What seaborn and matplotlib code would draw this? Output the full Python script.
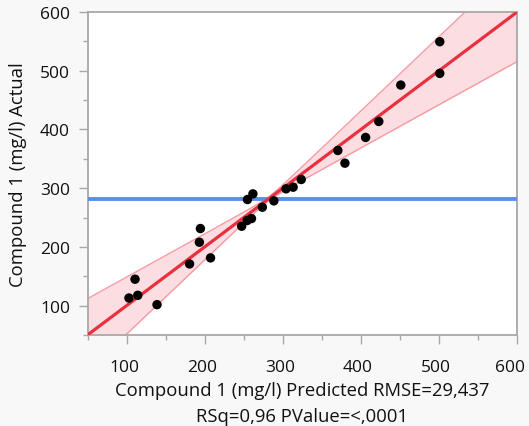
import numpy as np
import pandas as pd
import matplotlib
matplotlib.use("Agg")
import matplotlib.pyplot as plt
import matplotlib.transforms as mtransforms
import seaborn as sns
from matplotlib.ticker import MultipleLocator

# Data
predicted = [102.5, 110.3, 113.8, 138.5, 180.2, 192.8, 194.1, 207.1, 247.0, 254.0,
             259.6, 254.4, 261.4, 273.5, 288.3, 303.9, 313.0, 323.4, 370.3, 379.4,
             405.9, 422.8, 451.0, 501.0, 501.0]
actual = [113.0, 145.0, 117.6, 101.7, 171.0, 208.0, 231.3, 181.3, 235.2, 244.9,
          248.3, 280.7, 290.3, 267.6, 278.4, 298.9, 301.7, 314.8, 364.2, 342.6,
          386.4, 413.6, 475.6, 495.5, 549.4]
tick_values = [100, 200, 300, 400, 500, 600]
xlabel_text = "Compound 1 (mg/l) Predicted RMSE=29,437\nRSq=0,96 PValue=<,0001"
ylabel_text = "Compound 1 (mg/l) Actual"
slope_crit = 6.6     # F-based critical multiplier for leverage confidence curves
center_crit = 0.7

df = pd.DataFrame({"pred": predicted, "act": actual})

sns.set_theme(style="white")
plt.rcParams["font.family"] = ["Open Sans", "DejaVu Sans"]

fig = plt.figure(figsize=(5.29, 4.27), dpi=100, facecolor="#f8f8f8")
ax = fig.add_axes([88 / 529, 1 - 336 / 427, (517 - 88) / 529, (336 - 13) / 427])
ax.set_facecolor("white")
ax.set_xlim(50, 600)
ax.set_ylim(50, 600)

# confidence curves
x = df["pred"].to_numpy()
y = df["act"].to_numpy()
n = len(x)
b1, b0 = np.polyfit(x, y, 1)
resid = y - (b0 + b1 * x)
s = np.sqrt(np.sum(resid ** 2) / (n - 2))
xbar = x.mean()
sxx = np.sum((x - xbar) ** 2)
xs = np.linspace(50, 600, 300)
fit = b0 + b1 * xs
half = s * np.sqrt(slope_crit ** 2 * (xs - xbar) ** 2 / sxx + center_crit ** 2 / n)
ax.fill_between(xs, fit - half, fit + half, color="#fcdde1", lw=0, zorder=1)
ax.plot(xs, fit - half, color="#f59aa3", lw=1.0, zorder=2)
ax.plot(xs, fit + half, color="#f59aa3", lw=1.0, zorder=2)

ax.axhline(y.mean(), color="#5b8cf0", lw=2.8, zorder=3)

sns.regplot(data=df, x="pred", y="act", scatter=False, ci=None, truncate=False,
            line_kws={"color": "#e8303f", "lw": 2.3, "zorder": 4}, ax=ax)
sns.scatterplot(data=df, x="pred", y="act", color="black", s=46, edgecolor="none",
                zorder=5, ax=ax)
ax.set_xlim(50, 600)
ax.set_ylim(50, 600)

ax.xaxis.set_minor_locator(MultipleLocator(50))
ax.yaxis.set_minor_locator(MultipleLocator(50))
ax.set_xticks(tick_values)
ax.set_yticks(tick_values)
ax.set_xticklabels([str(v) for v in tick_values])
ax.set_yticklabels([str(v) for v in tick_values])
ax.tick_params(which="major", length=6.5, width=1.0, color="#a8a8a8",
               labelsize=12.5, labelcolor="#111111", left=True, bottom=True)
ax.tick_params(axis="x", which="major", pad=11)
ax.tick_params(axis="y", which="major", pad=6.5)
ax.tick_params(which="minor", length=3.8, width=1.0, color="#a8a8a8", left=True, bottom=True)
for sp in ax.spines.values():
    sp.set_color("#a8a8a8")
    sp.set_linewidth(1.3)

# small leftward shift of x tick labels as in reference (last one pulled inside)
for lab, v in zip(ax.get_xticklabels(), tick_values):
    dx = -6.5 if v == tick_values[-1] else -3
    lab.set_transform(lab.get_transform() + mtransforms.ScaledTranslation(dx / 100, 0, fig.dpi_scale_trans))

ax.set_xlabel(xlabel_text, fontsize=13.3, color="#111111", linespacing=1.6, labelpad=4)
ax.set_ylabel(ylabel_text, fontsize=13.3, color="#111111", labelpad=9)

fig.savefig("out.png", dpi=100, facecolor=fig.get_facecolor())
